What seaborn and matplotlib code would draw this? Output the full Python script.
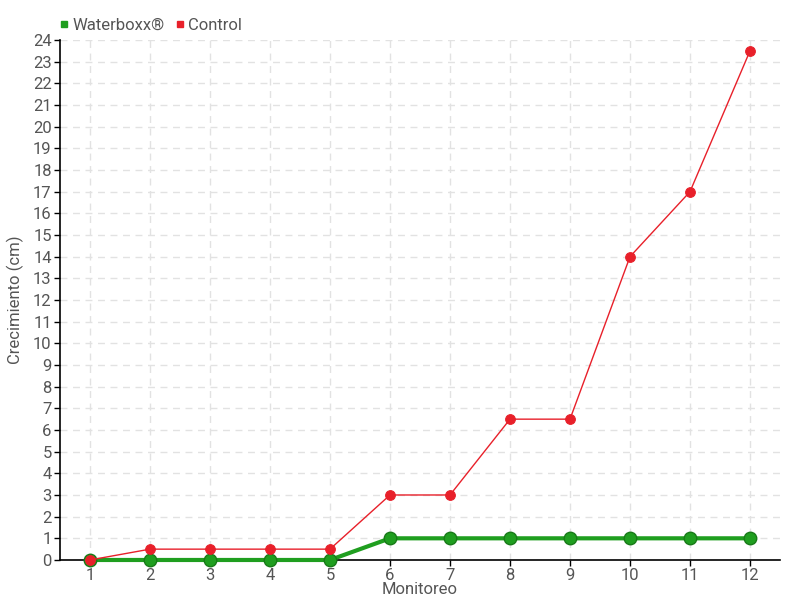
import pandas as pd
import matplotlib
matplotlib.use("Agg")
import matplotlib.pyplot as plt
import seaborn as sns
from matplotlib.lines import Line2D

sns.set_style("white")
plt.rcParams['font.family'] = ['Roboto', 'DejaVu Sans']

monitoreo = list(range(1, 13))
waterboxx = [0, 0, 0, 0, 0, 1, 1, 1, 1, 1, 1, 1]
control = [0, 0.5, 0.5, 0.5, 0.5, 3, 3, 6.5, 6.5, 14, 17, 23.5]

verde = "#1f9e1f"
rojo = "#e8202a"
gris = "#555555"

df = pd.DataFrame({"Monitoreo": monitoreo, "Waterboxx®": waterboxx, "Control": control})

fig = plt.figure(figsize=(8, 6), dpi=100)
ax = fig.add_axes([0.075, 0.0667, 0.9, 0.8666])

sns.lineplot(data=df, x="Monitoreo", y="Waterboxx®", ax=ax, color=verde, linewidth=3,
             marker="o", markersize=9, markeredgecolor="#187a18", markeredgewidth=1,
             zorder=3, clip_on=False)
sns.lineplot(data=df, x="Monitoreo", y="Control", ax=ax, color=rojo, linewidth=1,
             marker="o", markersize=7, markeredgecolor=rojo, zorder=4, clip_on=False)

ax.set_xlim(0.5, 12.5)
ax.set_ylim(0, 24)
ax.set_xticks(monitoreo)
ax.set_yticks(range(0, 25))
ax.grid(True, linestyle=(0, (5, 4)), color="#e2e2e2", linewidth=1)
ax.set_axisbelow(True)
for s in ["top", "right"]:
    ax.spines[s].set_visible(False)
for s in ["left", "bottom"]:
    ax.spines[s].set_color("black")
    ax.spines[s].set_linewidth(1.2)
    ax.spines[s].set_zorder(2)
ax.tick_params(axis="both", direction="out", length=4, width=1, color="black",
               labelcolor=gris, labelsize=12, pad=2, bottom=True, left=True)
ax.set_xlabel("Monitoreo", color=gris, fontsize=12)
ax.set_ylabel("Crecimiento (cm)", color=gris, fontsize=12)
ax.xaxis.set_label_coords(0.5, -0.043)
ax.yaxis.set_label_coords(-0.05, 0.5)

handles = [Line2D([], [], marker="s", color="none", markerfacecolor=verde, markeredgecolor=verde, markersize=5),
           Line2D([], [], marker="s", color="none", markerfacecolor=rojo, markeredgecolor=rojo, markersize=5)]
leg = fig.legend(handles, ["Waterboxx®", "Control"], loc="upper left", bbox_to_anchor=(0.055, 0.995),
                 ncol=2, frameon=False, handlelength=0.6, handletextpad=0.2, columnspacing=0.6,
                 fontsize=12)
for t in leg.get_texts():
    t.set_color(gris)

fig.savefig("out.png", dpi=100)
